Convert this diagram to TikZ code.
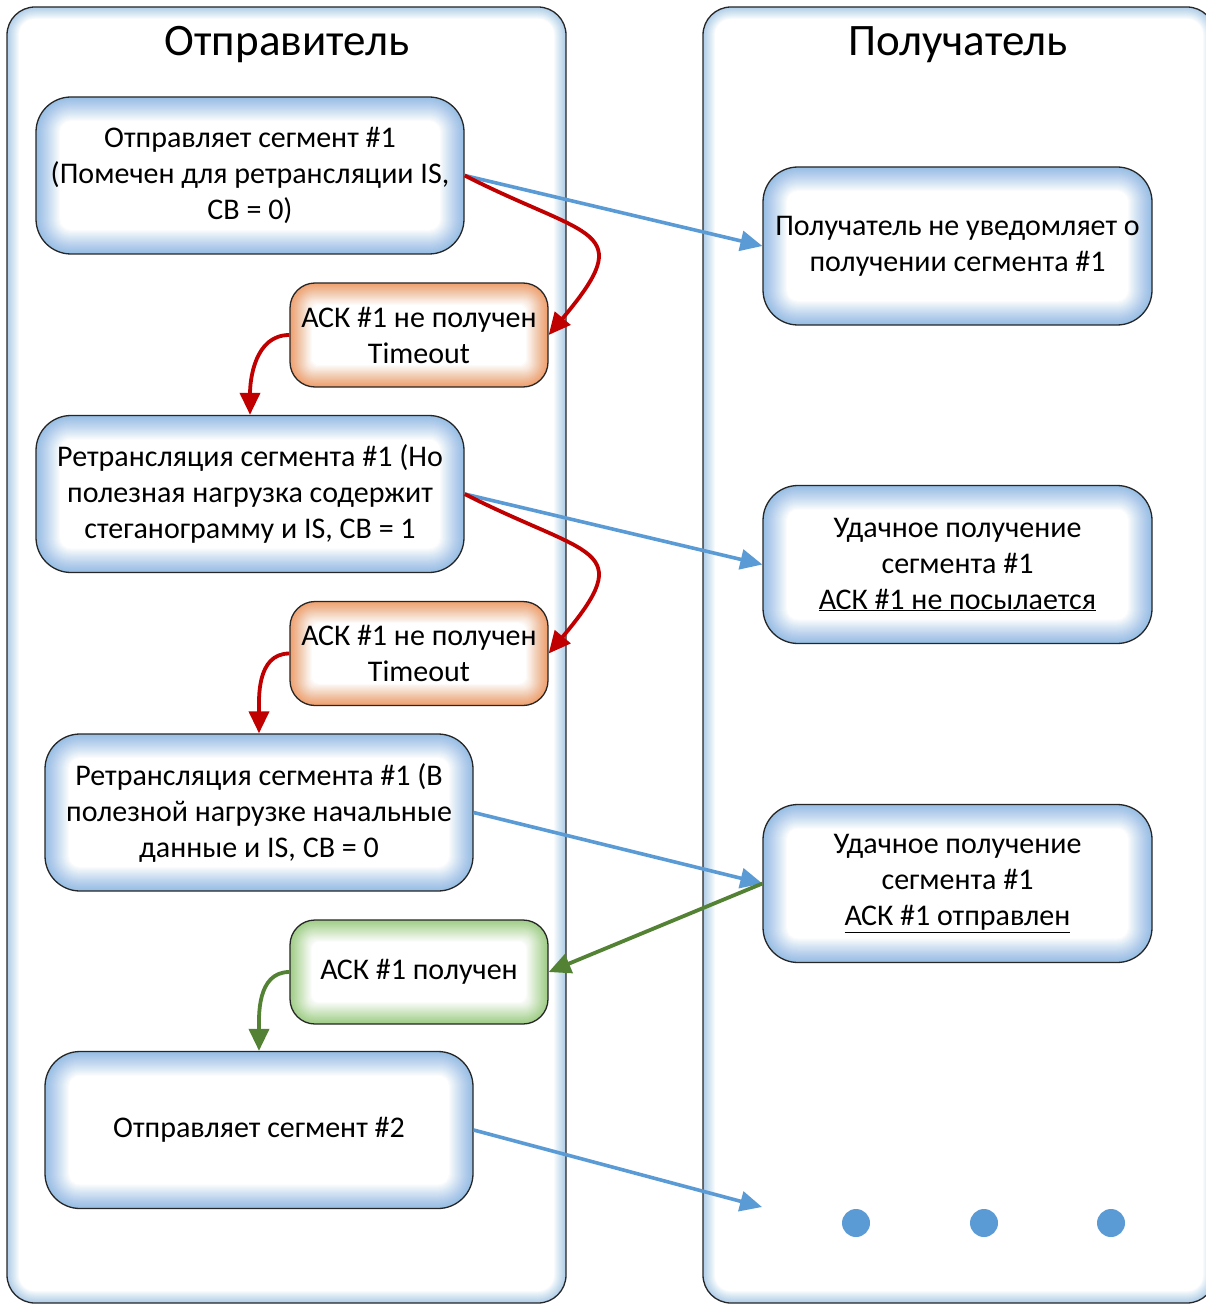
\documentclass[tikz,border=0pt]{standalone}
\usepackage{fontspec}
\setmainfont{Carlito}
\usetikzlibrary{arrows.meta}

\definecolor{glowblue}{RGB}{150,190,228}
\definecolor{laneblue}{RGB}{175,205,235}
\definecolor{gloworange}{RGB}{240,160,110}
\definecolor{glowgreen}{RGB}{160,205,135}
\definecolor{arrowblue}{RGB}{91,155,213}
\definecolor{arrowred}{RGB}{192,0,0}
\definecolor{arrowgreen}{RGB}{84,130,53}

% inner glow: #1 corner radius, #2 step
\newcommand{\glowfill}[2]{%
  \foreach \k in {1,...,24}{
    \pgfmathsetmacro\rr{max(#1-\k*#2,8)}
    \pgfmathsetmacro\op{1/(25-\k)}
    \fill[white,opacity=\op,rounded corners=\rr pt]
      ([shift={(\k*#2 pt,\k*#2 pt)}]path picture bounding box.south west) rectangle
      ([shift={(-\k*#2 pt,-\k*#2 pt)}]path picture bounding box.north east);
  }}

\tikzset{
  lanebox/.style={draw=black!85, line width=1.3pt, rounded corners=28pt,
    fill=laneblue, path picture={\glowfill{28}{0.5}}},
  lanetitle/.style={font=\fontsize{45}{54}\selectfont},
  stepbox/.style={draw=black!85, line width=1.3pt, align=center,
    font=\fontsize{30}{36}\selectfont},
  sendbox/.style={stepbox, rounded corners=35pt, fill=glowblue,
    minimum width=428pt, minimum height=157pt, path picture={\glowfill{35}{1}}},
  recvbox/.style={stepbox, rounded corners=35pt, fill=glowblue,
    minimum width=389pt, minimum height=158pt, path picture={\glowfill{35}{1}}},
  timeoutbox/.style={stepbox, rounded corners=25pt, fill=gloworange,
    minimum width=258pt, minimum height=104pt, path picture={\glowfill{25}{0.9}}},
  ackbox/.style={stepbox, rounded corners=25pt, fill=glowgreen,
    minimum width=258pt, minimum height=104pt, path picture={\glowfill{25}{0.9}}},
  dotmark/.style={circle, fill=arrowblue, minimum size=28pt, inner sep=0pt},
  sendarrow/.style={draw=arrowblue, line width=3.6pt, -{Triangle[length=22pt,width=20pt]}},
  lossarrow/.style={draw=arrowred, line width=3.8pt, -{Triangle[length=22pt,width=20pt]}},
  ackarrow/.style={draw=arrowgreen, line width=3.8pt, -{Triangle[length=22pt,width=20pt]}},
}

\begin{document}
\begin{tikzpicture}[x=1pt,y=1pt]
  \useasboundingbox (0,0) rectangle (1206,-1305);
  \clip (0,0) rectangle (1206,-1305);

  % lanes
  \node[lanebox, minimum width=559pt, minimum height=1296pt] (sender) at (286.5,-655) {};
  \node[lanebox, minimum width=512pt, minimum height=1296pt] (receiver) at (959,-655) {};
  \node[lanetitle] (sendertitle) at (287,-45) {Отправитель};
  \node[lanetitle] (receivertitle) at (958,-45) {Получатель};

  % sender
  \node[sendbox] (send1) at (250,-175.5) {Отправляет сегмент \#1\\(Помечен для ретрансляции IS,\\CB = 0)};
  \node[timeoutbox] (timeout1) at (419,-335) {АСК \#1 не получен\\Timeout};
  \node[sendbox] (resend1) at (250,-494) {Ретрансляция сегмента \#1 (Но\\полезная нагрузка содержит\\стеганограмму и IS, CB = 1};
  \node[timeoutbox] (timeout2) at (419,-653.5) {АСК \#1 не получен\\Timeout};
  \node[sendbox] (resend2) at (259,-812.5) {Ретрансляция сегмента \#1 (В\\полезной нагрузке начальные\\данные и IS, CB = 0};
  \node[ackbox] (ackok) at (419,-972) {АСК \#1 получен};
  \node[sendbox] (send2) at (259,-1130) {Отправляет сегмент \#2};

  % receiver
  \node[recvbox] (recv1) at (957.5,-246) {Получатель не уведомляет о\\получении сегмента \#1};
  \node[recvbox] (recv2) at (957.5,-564.5) {Удачное получение\\сегмента \#1\\\underline{АСК \#1 не посылается}};
  \node[recvbox] (recv3) at (957.5,-883.5) {Удачное получение\\сегмента \#1\\\underline{АСК \#1 отправлен}};
  \foreach \x [count=\n] in {856,984,1111}
    \node[dotmark] (dot\n) at (\x,-1223) {};
  \coordinate (next) at (762,-1207);

  % connectors
  \draw[sendarrow] (send1.east) -- (recv1.west);
  \draw[lossarrow] (send1.east) to[out=-27,in=50,looseness=2] (timeout1.east);
  \draw[lossarrow] (timeout1.west) to[out=180,in=90] (resend1.north);
  \draw[sendarrow] (resend1.east) -- (recv2.west);
  \draw[lossarrow] (resend1.east) to[out=-27,in=50,looseness=2] (timeout2.east);
  \draw[lossarrow] (timeout2.west) to[out=180,in=90] (resend2.north);
  \draw[sendarrow] (resend2.east) -- (recv3.west);
  \draw[ackarrow] (recv3.west) -- (ackok.east);
  \draw[ackarrow] (ackok.west) to[out=180,in=90] (send2.north);
  \draw[sendarrow] (send2.east) -- (next);
\end{tikzpicture}
\end{document}
